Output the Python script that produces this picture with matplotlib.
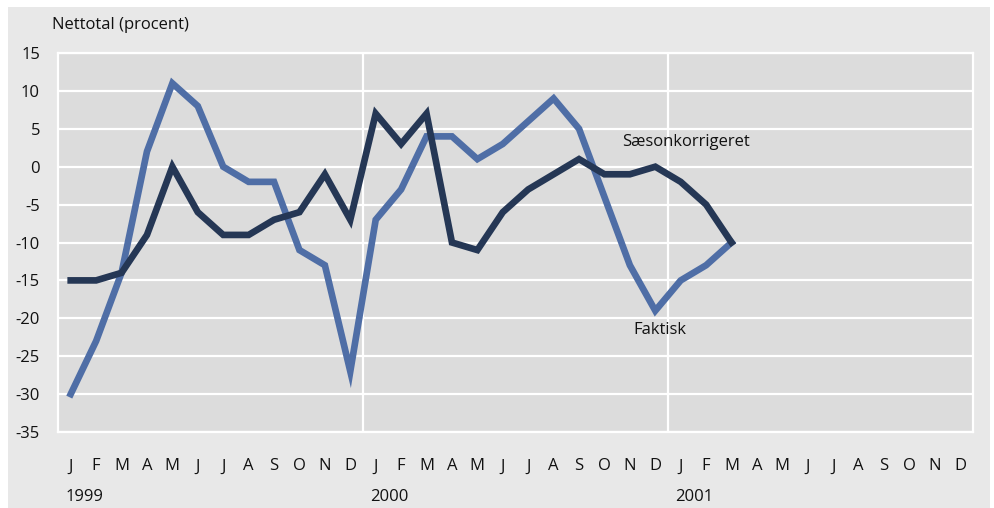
import matplotlib
matplotlib.use("Agg")
import matplotlib.pyplot as plt
from matplotlib.patches import Rectangle

months = ["J", "F", "M", "A", "M", "J", "J", "A", "S", "O", "N", "D"] * 3
years = ["1999", "2000", "2001"]
faktisk = [-30, -23, -14, 2, 11, 8, 0, -2, -2, -11, -13, -27,
           -7, -3, 4, 4, 1, 3, 6, 9, 5, -4, -13, -19,
           -15, -13, -10]
saeson = [-15, -15, -14, -9, 0, -6, -9, -9, -7, -6, -1, -7,
          7, 3, 7, -10, -11, -6, -3, -1, 1, -1, -1, 0,
          -2, -5, -10]
yticks = [15, 10, 5, 0, -5, -10, -15, -20, -25, -30, -35]

plt.rcParams['font.family'] = ['Open Sans', 'DejaVu Sans']

W, H = 995, 508
fig = plt.figure(figsize=(W / 100, H / 100), dpi=100)
fig.patch.set_facecolor("white")
fig.add_artist(Rectangle((8 / W, 0), 982 / W, (H - 7) / H, transform=fig.transFigure,
                         facecolor="#e8e8e8", edgecolor="none", zorder=-10))

ax = fig.add_axes([58 / W, 1 - 432 / H, (973 - 58) / W, (432 - 53) / H])
ax.set_zorder(5)
ax.set_facecolor("#dcdcdc")
ax.set_xlim(-0.5, 35.5)
ax.set_ylim(-35, 15)
for s in ax.spines.values():
    s.set_color("white")
    s.set_linewidth(1.6)

ax.set_yticks(yticks)
ax.set_yticklabels([str(v) for v in yticks])
ax.set_xticks(range(len(months)))
ax.set_xticklabels(months)
ax.tick_params(axis="both", length=0, labelsize=12, colors="#111111")
ax.tick_params(axis="y", pad=13)
ax.tick_params(axis="x", pad=19)
ax.grid(axis="y", color="white", linewidth=1.6)
ax.set_axisbelow(True)
for xv in [11.5, 23.5]:
    ax.axvline(xv, color="white", linewidth=1.6, zorder=1)

x1 = list(range(len(faktisk)))
ax.plot(x1, faktisk, color="#4f6ea6", linewidth=4.8, solid_joinstyle="miter", zorder=3)
ax.plot(range(len(saeson)), saeson, color="#253755", linewidth=4.8, solid_joinstyle="miter", zorder=4)

for i, y in enumerate(years):
    ax.text(i * 12 - 0.22, -0.172, y, transform=ax.get_xaxis_transform(), ha="left", va="center",
            fontsize=12, color="#111111")

ax.text(24.22, 3.3, "Sæsonkorrigeret", ha="center", va="center", fontsize=12, color="#111111")
ax.text(23.2, -21.5, "Faktisk", ha="center", va="center", fontsize=12, color="#111111")

fig.text(52 / W, 1 - 25 / H, "Nettotal (procent)", ha="left", va="center", fontsize=12, color="#111111")

fig.savefig("out.png", dpi=100)
